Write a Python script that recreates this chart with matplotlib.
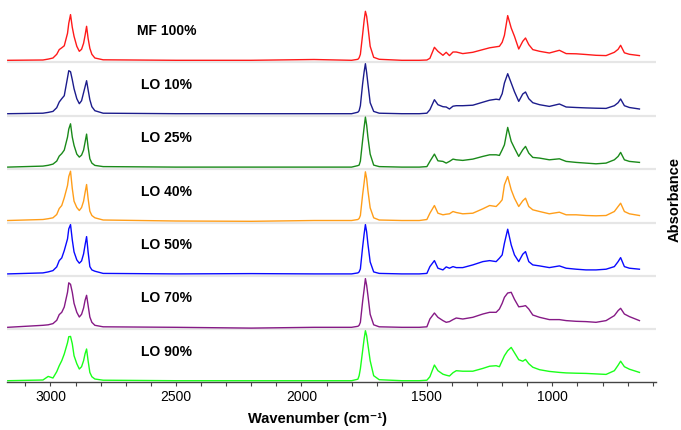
import matplotlib
matplotlib.use("Agg")
import matplotlib.pyplot as plt
from matplotlib.ticker import MultipleLocator

# numero de onda (cm-1) comun a todos los espectros
wn = [3170, 3030, 3009, 2990, 2975, 2965, 2955, 2945, 2932, 2927, 2920, 2913, 2906, 2895,
      2885, 2876, 2868, 2862, 2856, 2850, 2843, 2835, 2823, 2790,
      2500, 2200, 1950, 1800, 1775,
      1770, 1765, 1756, 1750, 1745, 1740, 1735, 1726, 1712, 1690, 1600, 1530,
      1500, 1488, 1470, 1456, 1436, 1423, 1410, 1396, 1383, 1357, 1317, 1277, 1250, 1224, 1211,
      1200, 1191, 1178, 1164, 1151, 1134, 1118, 1107, 1094, 1078, 1051, 1012, 972, 945, 905,
      866, 826, 786, 753, 738, 728, 713, 693, 653]

# absorbancia (u.a.)
mf100 = [0, 0.3, 1.2, 2.3, 6, 10.7, 12.5, 14.5, 27, 37, 45.7, 33, 24, 14,
         9, 11, 17, 25, 34, 22, 12, 6, 2.3, 0.5,
         0, 0, 0.8, 0, 1,
         2.5, 6, 26, 40, 49, 44, 34, 14, 3, 1, 0, 0,
         0.3, 2, 13, 9, 5, 8, 4.7, 8.3, 8.3, 6.7, 8, 10.7, 12.5, 13.5, 14,
         18, 25, 44.7, 32.3, 24, 11.3, 19, 22.3, 15.7, 10.7, 9, 7.3, 10, 6.7, 6.5,
         5.8, 5, 4.7, 8, 11, 15, 7.5, 6, 4.7]
lo10 = [0, 0.5, 1.3, 2.3, 6, 11.7, 15, 18, 36, 43, 42, 34, 25, 15,
        10, 13, 21, 27, 33, 24, 14, 7, 3, 0.5,
        0, 0, 0, 0, 1.5,
        3, 8, 30, 42, 50, 41, 30, 11, 2.3, 0.5, 0, 0,
        0.5, 4, 14, 9, 7, 6.7, 4.7, 7.5, 8, 8, 8.5, 11.5, 13.5, 14.5, 14,
        20, 30.7, 40, 30.7, 22, 12.3, 19.7, 21.7, 15, 11, 9, 7.3, 9.7, 6.7, 6.2,
        5.8, 5.5, 5.3, 8, 11, 14.7, 8, 6.2, 4.7]
lo25 = [0, 1, 1.8, 3, 6, 11, 13.5, 17, 30, 38, 43.3, 30, 21.7, 13,
        10, 12, 17, 25, 33, 20, 8.3, 4, 1.7, 0.5,
        0, 0, 0, 0, 1.5,
        2, 6, 27, 40, 50, 42, 30, 13, 2, 0.5, 0, 0,
        0.5, 5.7, 13, 6.3, 5.7, 4, 5.7, 8, 7.3, 6.7, 8, 10.7, 12.3, 12.3, 11.7,
        17.3, 22.3, 39.7, 25.7, 19, 10.7, 17.3, 20.7, 14, 9.7, 9, 7.3, 8.3, 5.7, 4.7,
        4, 3.3, 4, 7.3, 10.7, 14.7, 7.3, 5.7, 4.7]
lo40 = [0, 1, 1.8, 2.7, 6, 12, 15, 22.7, 35, 44, 49.3, 32, 19.3, 13,
        10, 13, 19.3, 28, 36, 22, 9.3, 5, 2.7, 0.5,
        -0.5, -0.8, 0, 0, 1,
        2, 5, 26, 38, 48.7, 42, 30, 12.7, 2.7, 0.5, 0, 0,
        1, 7.3, 15, 7.3, 5.7, 6.3, 6.7, 9, 8, 6.7, 7.3, 11.7, 15, 14, 17.3,
        20.7, 35.7, 44, 30.7, 22.3, 14, 19.7, 22.3, 14, 10.7, 9, 6.7, 8.3, 5.7, 5.7,
        5, 4.7, 5, 9, 14, 17.3, 9, 6.7, 5]
lo50 = [0, 1, 2, 3.3, 7, 13.3, 16, 23.3, 35, 45, 49.3, 34, 22, 14,
        10.7, 13, 20, 29, 37.3, 22, 7.3, 4, 2.7, 0.5,
        0, 0.3, 0, 0, 1,
        2, 5, 27, 40, 49.3, 42, 30, 12, 2, 0.5, 0, 0,
        0.5, 7.3, 13.3, 5.7, 4, 7, 5.7, 7.3, 6.3, 6.3, 9, 12.3, 13.3, 12.3, 15.7,
        19, 30.7, 44.7, 29, 19, 12.3, 19.7, 22.3, 12.3, 9, 8, 6.3, 8, 5.7, 4.7,
        4, 4, 4.7, 7.3, 12.3, 16.3, 7.3, 5.7, 4.7]
lo70 = [0, 2, 2.5, 3.7, 7, 12.7, 15, 20.3, 35, 44.5, 43, 35, 24, 15,
        10.3, 13, 19.3, 27, 32, 22, 10.3, 5, 2, 0.5,
        0, -0.8, 0, 0, 1,
        2, 5, 26, 38, 48.7, 42, 32, 13, 2.5, 0.5, 0, 0,
        0.5, 8.3, 14.3, 10, 6.7, 5, 5.7, 7.7, 9.3, 8.3, 10, 13.3, 15, 15, 18.3,
        24, 30, 34.3, 35, 28, 20.5, 21, 21.7, 18.3, 12.3, 10, 7.7, 7.7, 6.7, 6,
        5.7, 5, 6.7, 11.7, 16.7, 19, 13.3, 10.7, 6.7]
lo90 = [0, 0.7, 4.3, 2.7, 9, 15, 20, 26.7, 38, 44, 44.3, 37, 25, 17,
        11.7, 14, 20, 27, 31.7, 20, 8.3, 4, 1.7, 0.5,
        0, 0, 0, 0, 1.5,
        5, 12, 30, 42, 50, 45, 36, 20, 5, 1, 0, 0,
        0.5, 4, 15.7, 10, 6.5, 5.5, 4.7, 8, 10, 9.5, 9.5, 12.3, 14.5, 15, 14,
        20, 25, 30, 33.3, 28, 21, 19.5, 21.3, 17, 13.5, 11, 9.3, 8.3, 7.8, 7.5,
        7.3, 6.8, 6.3, 10, 15.5, 19.5, 14, 11.5, 8.3]

muestras = ["MF 100%", "LO 10%", "LO 25%", "LO 40%", "LO 50%", "LO 70%", "LO 90%"]
espectros = [mf100, lo10, lo25, lo40, lo50, lo70, lo90]
colores = ["#ff1a1a", "#1c1c8c", "#1a8a1a", "#ff9e1a", "#0a0aff", "#861a86", "#1aff1a"]

separacion = 53.4
fuente = ["Liberation Sans", "DejaVu Sans"]

fig = plt.figure(figsize=(6.81, 4.30), dpi=100)
ax = fig.add_axes([0.0107, 0.1116, 0.9526, 0.8884])

n = len(espectros)
for i in range(n):
    base = (n - 1 - i) * separacion
    y = [v + base for v in espectros[i]]
    ax.plot(wn, y, color=colores[i], lw=1.0)
    ax.text(2536, base + 29, muestras[i], ha="center", va="center",
            fontsize=10, fontweight="bold", family=fuente)
    if i < n - 1:
        ax.axhline(base - 2, color="#e6e6e6", lw=1.6, zorder=0)

ax.set_xlim(3172, 587)
ax.set_ylim(-1.3, 380.7)
ax.set_xticks([3000, 2500, 2000, 1500, 1000])
ax.xaxis.set_minor_locator(MultipleLocator(100))
ax.tick_params(axis="x", which="both", direction="out", length=3, width=0.8,
               labelsize=10, pad=3, color="#444444")
for lab in ax.get_xticklabels():
    lab.set_family(fuente)
ax.set_yticks([])
for s in ["top", "left", "right"]:
    ax.spines[s].set_visible(False)
ax.spines["bottom"].set_color("#444444")
ax.spines["bottom"].set_linewidth(1.0)

fig.text(0.466, 0.026, "Wavenumber (cm⁻¹)", ha="center", va="center",
         fontsize=10.5, fontweight="bold", family=fuente)
fig.text(0.991, 0.535, "Absorbance", ha="center", va="center", rotation=90,
         fontsize=10.5, fontweight="bold", family=fuente)

plt.savefig("out.png", dpi=100)
plt.clf()
